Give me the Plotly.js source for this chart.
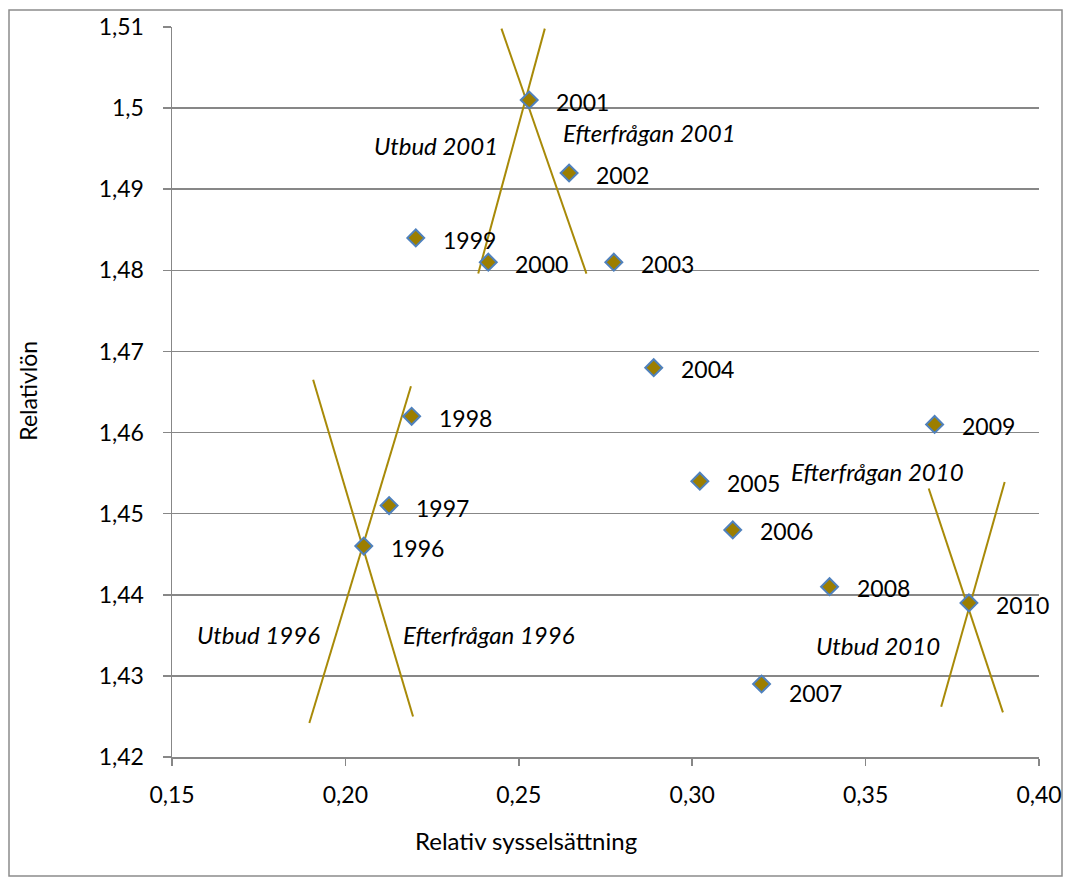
<!DOCTYPE html>
<html>
<head>
<meta charset="utf-8">
<script src="https://cdn.plot.ly/plotly-3.0.1.min.js"></script>
<style>
  html, body { margin: 0; padding: 0; background: #fff; }
  #chart { width: 1073px; height: 883px; }
</style>
</head>
<body>
<div id="chart"></div>
<script>
// ---- Data ----
const years = ['1996','1997','1998','1999','2000','2001','2002','2003','2004','2005','2006','2007','2008','2009','2010'];
const relEmployment = [0.2053, 0.2126, 0.2191, 0.2203, 0.2412, 0.2530, 0.2645, 0.2774, 0.2889, 0.3022, 0.3117, 0.3200, 0.3396, 0.3699, 0.3798];
const relWage = [1.446, 1.451, 1.462, 1.484, 1.481, 1.501, 1.492, 1.481, 1.468, 1.454, 1.448, 1.429, 1.441, 1.461, 1.439];

// supply / demand sketch lines (endpoints)
const supply1996X = [0.1896, 0.2189];
const supply1996Y = [1.4242, 1.4657];
const demand1996X = [0.1907, 0.2195];
const demand1996Y = [1.4665, 1.4250];
const supply2001X = [0.2383, 0.2575];
const supply2001Y = [1.4796, 1.5098];
const demand2001X = [0.2450, 0.2695];
const demand2001Y = [1.5098, 1.4796];
const supply2010X = [0.3718, 0.3901];
const supply2010Y = [1.4262, 1.4539];
const demand2010X = [0.3682, 0.3896];
const demand2010Y = [1.4531, 1.4255];

// curve labels
const curveLabels = ['Utbud 2001', 'Efterfrågan 2001', 'Utbud 1996', 'Efterfrågan 1996', 'Efterfrågan 2010', 'Utbud 2010'];
const curveLabelX = [0.2260, 0.2877, 0.1749, 0.2413, 0.3535, 0.3535];
const curveLabelY = [1.4954, 1.4970, 1.4351, 1.4351, 1.4552, 1.4337];

// ticks
const xTickVals = [0.15, 0.20, 0.25, 0.30, 0.35, 0.40];
const xTickText = ['0,15', '0,20', '0,25', '0,30', '0,35', '0,40'];
const yTickVals = [1.42, 1.43, 1.44, 1.45, 1.46, 1.47, 1.48, 1.49, 1.50, 1.51];
const yTickText = ['1,42', '1,43', '1,44', '1,45', '1,46', '1,47', '1,48', '1,49', '1,5', '1,51'];

// ---- Styles ----
const FONT = 'Lato, "Open Sans", sans-serif';
const lineColor = '#A88A08';
const gridColor = '#878787';
const labelYShift = [-2,-2,-2,-2,-2,-2,-2,-2,-1,-2,-1,-9,-1,-2,-2];

function seg(x, y) {
  return { x: x, y: y, type: 'scatter', mode: 'lines', hoverinfo: 'skip',
           line: { color: lineColor, width: 2 }, showlegend: false };
}

const traces = [
  seg(supply1996X, supply1996Y), seg(demand1996X, demand1996Y),
  seg(supply2001X, supply2001Y), seg(demand2001X, demand2001Y),
  seg(supply2010X, supply2010Y), seg(demand2010X, demand2010Y),
  {
    x: relEmployment, y: relWage, text: years, type: 'scatter', mode: 'markers',
    marker: { symbol: 'diamond', size: 13, color: '#9C7E00', line: { color: '#4F81BD', width: 2 } },
    showlegend: false
  }
];

const annotations = [];
years.forEach((yr, i) => {
  annotations.push({ x: relEmployment[i], y: relWage[i], xref: 'x', yref: 'y', text: yr,
    showarrow: false, xanchor: 'left', yanchor: 'middle', xshift: 25, yshift: labelYShift[i],
    font: { family: FONT, size: 23, color: '#000' } });
});
curveLabels.forEach((t, i) => {
  annotations.push({ x: curveLabelX[i], y: curveLabelY[i], xref: 'x', yref: 'y', text: '<i>' + t + '</i>',
    showarrow: false, xanchor: 'center', yanchor: 'middle',
    font: { family: FONT, size: 24, color: '#000' } });
});
annotations.push({ x: (526 - 172) / 867, y: -0.114, xref: 'paper', yref: 'paper', text: 'Relativ sysselsättning',
  showarrow: false, xanchor: 'center', yanchor: 'middle', font: { family: FONT, size: 24, color: '#000' } });
annotations.push({ x: -0.167, y: 0.502, xref: 'paper', yref: 'paper', text: 'Relativlön', textangle: -90,
  showarrow: false, xanchor: 'center', yanchor: 'middle', font: { family: FONT, size: 23, color: '#000' } });

const layout = {
  width: 1073, height: 883,
  margin: { l: 172, r: 34, t: 27, b: 126 },
  paper_bgcolor: '#fff', plot_bgcolor: '#fff',
  showlegend: false,
  font: { family: FONT, size: 22, color: '#000' },
  xaxis: {
    range: [0.15, 0.40], tickmode: 'array', tickvals: xTickVals, ticktext: xTickText,
    showgrid: false, zeroline: false, showline: true, linecolor: gridColor, linewidth: 1.5,
    ticks: 'outside', ticklen: 7, tickcolor: gridColor, tickwidth: 1.5,
    ticklabelstandoff: 10, tickfont: { family: FONT, size: 23, color: '#000' }
  },
  yaxis: {
    range: [1.42, 1.51], tickmode: 'array', tickvals: yTickVals, ticktext: yTickText,
    showgrid: true, gridcolor: gridColor, gridwidth: 1.5, zeroline: false,
    showline: true, linecolor: gridColor, linewidth: 1.5,
    ticks: 'outside', ticklen: 8, tickcolor: gridColor, tickwidth: 1.5,
    ticklabelstandoff: 14, tickfont: { family: FONT, size: 23, color: '#000' }
  },
  annotations: annotations,
  shapes: [{
    type: 'rect', xref: 'paper', yref: 'paper',
    x0: (9 - 172) / 867, x1: (1062 - 172) / 867,
    y0: (757 - 876) / 730, y1: (757 - 10) / 730,
    line: { color: '#8C8C8C', width: 1.5 }, fillcolor: 'rgba(0,0,0,0)', layer: 'below'
  }]
};

Plotly.newPlot('chart', traces, layout, { displayModeBar: false, staticPlot: true });
</script>
</body>
</html>
